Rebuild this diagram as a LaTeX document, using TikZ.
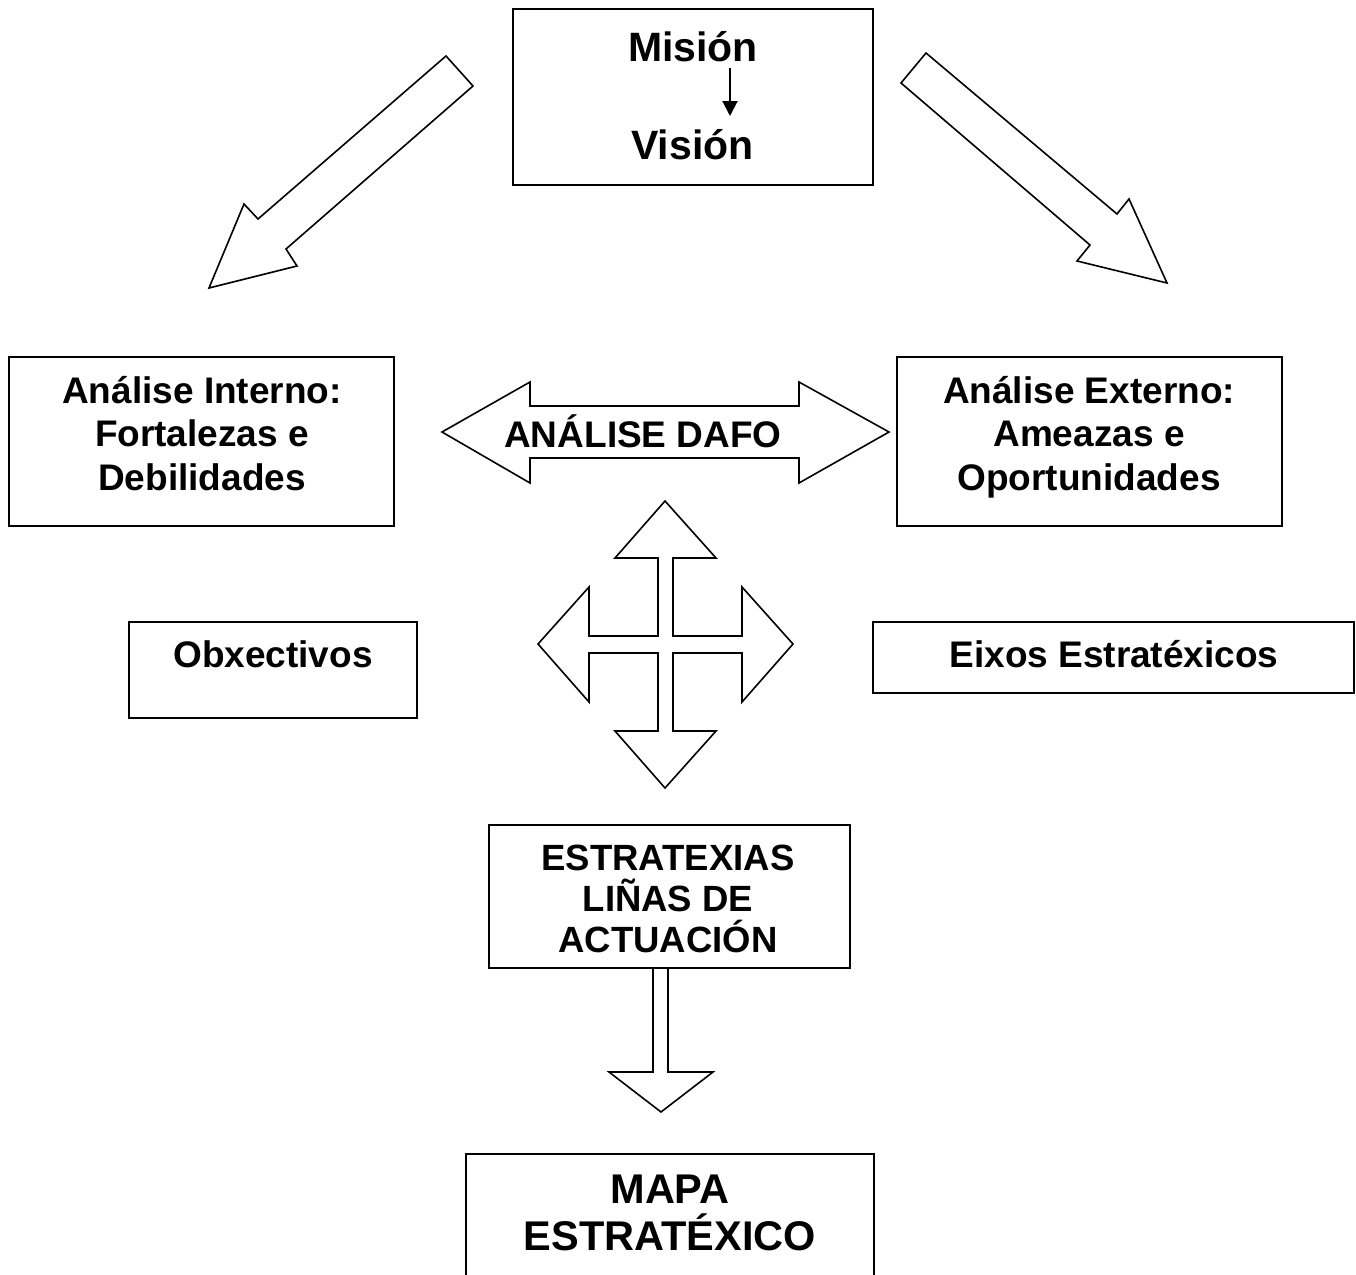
\documentclass[tikz,border=0pt]{standalone}
\usepackage{fontspec}
\setmainfont{Liberation Sans}
\usetikzlibrary{arrows.meta}
\tikzset{
  box/.style={draw, line width=2pt, rectangle, inner sep=0pt},
  blockarrow/.style={draw, line width=1.6pt, line join=miter, fill=white},
  txt/.style={inner sep=0pt, align=center, anchor=base, font=\bfseries\fontsize{37}{43.5}\selectfont},
  bigtxt/.style={inner sep=0pt, align=center, anchor=base, font=\bfseries\fontsize{41}{47}\selectfont},
  midtxt/.style={inner sep=0pt, align=center, anchor=base, font=\bfseries\fontsize{36.5}{41}\selectfont},
}
\begin{document}
\begin{tikzpicture}[x=1pt, y=-1pt]
\useasboundingbox (0,0) rectangle (1356,1274);
\clip (0,0) rectangle (1356,1274);
\fill[white] (0,0) rectangle (1356,1274);

% boxes
\node[box, minimum width=360pt, minimum height=176pt] (mision) at (693,97) {};
\node[box, minimum width=385pt, minimum height=169pt] (interno) at (201.5,441.5) {};
\node[box, minimum width=385pt, minimum height=169pt] (externo) at (1089.5,441.5) {};
\node[box, minimum width=288pt, minimum height=96pt] (obx) at (273,670) {};
\node[box, minimum width=481pt, minimum height=71pt] (eixos) at (1113.5,657.5) {};
\node[box, minimum width=361pt, minimum height=143pt] (estrat) at (669.5,896.5) {};
\node[box, minimum width=408pt, minimum height=146pt] (mapa) at (670,1227) {};

% texts (multi-line nodes: base = baseline of the last line)
\node[bigtxt] (tmision) at (693,61) {Misión};
\node[bigtxt] (tvision) at (692.5,159) {Visión};
\node[txt] (tinterno) at (202,490) {Análise Interno:\\Fortalezas e\\Debilidades};
\node[txt] (texterno) at (1089,490) {Análise Externo:\\Ameazas e\\Oportunidades};
\node[txt] (tobx) at (273,667) {Obxectivos};
\node[txt] (teixos) at (1114,667) {Eixos Estratéxicos};
\node[midtxt] (testrat) at (668,952) {ESTRATEXIAS\\LIÑAS DE\\ACTUACIÓN};
\node[font=\bfseries\fontsize{41.5}{47}\selectfont, inner sep=0pt, align=center, anchor=base] (tmapa) at (670,1250) {MAPA\\ESTRATÉXICO};

% Mision -> Vision arrow
\coordinate (mvA) at (730,68);
\coordinate (mvB) at (730,116);
\draw[line width=2pt, -{Triangle[length=15pt, width=15pt]}] (mvA) -- (mvB);

% left diagonal block arrow
\draw[blockarrow] (446,56) -- (473,86) -- (286,249) -- (297,266) -- (209,288)
  -- (244,204) -- (258,219) -- cycle;
% right diagonal block arrow
\draw[blockarrow] (926,53) -- (901,83) -- (1090,245) -- (1077,261) -- (1167,283)
  -- (1129,199) -- (1117,214) -- cycle;

% DAFO double arrow
\draw[blockarrow] (442,432) -- (530,382) -- (530,406) -- (799,406) -- (799,382)
  -- (889,432) -- (799,483) -- (799,458) -- (530,458) -- (530,483) -- cycle;
\node[txt] (tdafo) at (643,447) {ANÁLISE DAFO};

% four-way arrow
\draw[blockarrow] (665,501) -- (716,558) -- (673,558) -- (673,636) -- (742,636)
  -- (742,587) -- (793,644) -- (742,702) -- (742,653) -- (673,653) -- (673,731)
  -- (716,731) -- (665,788) -- (615,731) -- (658,731) -- (658,653) -- (589,653)
  -- (589,702) -- (538,644) -- (589,587) -- (589,636) -- (658,636) -- (658,558)
  -- (615,558) -- cycle;

% down block arrow from estrategias to mapa
\draw[blockarrow] (estrat.south -| 653,0) -- (653,1072) -- (609,1072) -- (661,1112)
  -- (713,1072) -- (668,1072) -- (estrat.south -| 668,0);
\end{tikzpicture}
\end{document}
